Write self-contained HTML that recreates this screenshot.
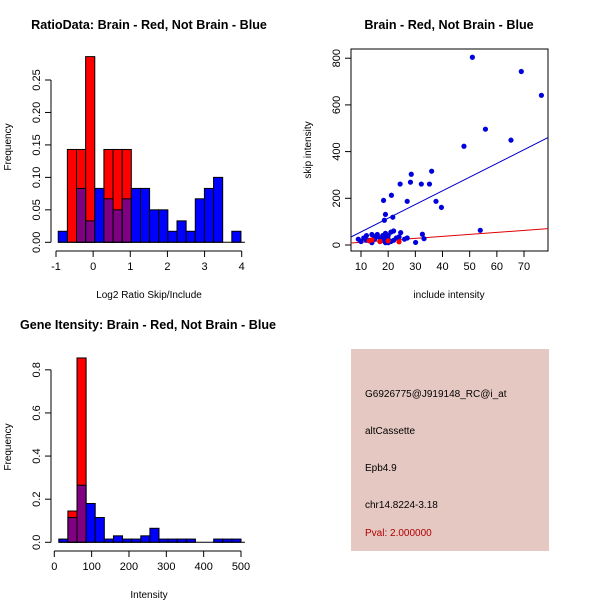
<!DOCTYPE html>
<html><head><meta charset="utf-8"><style>
html,body{margin:0;padding:0;background:#fff;}
svg{display:block;font-family:"Liberation Sans",Arial,sans-serif;}
</style></head><body>
<svg id="s" width="600" height="600" viewBox="0 0 600 600">
<rect width="600" height="600" fill="#fff"/>
<text x="149" y="29" font-size="12.6" font-weight="bold" text-anchor="middle">RatioData: Brain - Red, Not Brain - Blue</text>
<text x="449" y="29" font-size="12.6" font-weight="bold" text-anchor="middle">Brain - Red, Not Brain - Blue</text>
<text x="148" y="329" font-size="12.6" font-weight="bold" text-anchor="middle">Gene Itensity: Brain - Red, Not Brain - Blue</text>
<text x="149" y="298" font-size="10" text-anchor="middle">Log2 Ratio Skip/Include</text>
<text x="11" y="147" font-size="10" text-anchor="middle" transform="rotate(-90 11 147)">Frequency</text>
<text x="449" y="298" font-size="10" text-anchor="middle">include intensity</text>
<text x="311" y="150" font-size="10" text-anchor="middle" transform="rotate(-90 311 150)">skip intensity</text>
<text x="149" y="598" font-size="10" text-anchor="middle">Intensity</text>
<text x="11" y="447" font-size="10" text-anchor="middle" transform="rotate(-90 11 447)">Frequency</text>
<g id="g1"></g>
<g id="g2"></g>
<g id="g3"></g>
<g>
<rect x="351" y="349" width="198" height="202" fill="#e5c8c2"/>
<text x="365" y="397" font-size="10">G6926775@J919148_RC@i_at</text>
<text x="365" y="434" font-size="10">altCassette</text>
<text x="365" y="471" font-size="10">Epb4.9</text>
<text x="365" y="508" font-size="10">chr14.8224-3.18</text>
<text x="365" y="536" font-size="10" fill="#b00000">Pval: 2.000000</text>
</g>
</svg>
<script>
// Ratio histogram data
const ratioBinStart = -0.94, ratioBinWidth = 0.246;
const ratioRed  = [0,0.143,0.143,0.286,0,0.143,0.143,0.143,0,0,0,0,0,0,0,0,0,0,0,0];
const ratioBlue = [0.017,0,0.083,0.033,0.083,0.067,0.05,0.067,0.083,0.083,0.05,0.05,0.017,0.033,0.017,0.067,0.083,0.1,0,0.017];
const ratioXTicks = [-1,0,1,2,3,4];
const ratioYTicks = ["0.00","0.05","0.10","0.15","0.20","0.25"];
// Intensity histogram data
const intBinStart = 12, intBinWidth = 24.4;
const intRed  = [0,0.145,0.855,0,0,0,0,0,0,0,0,0,0,0,0,0,0,0,0,0];
const intBlue = [0.015,0.115,0.265,0.18,0.115,0.015,0.03,0.015,0.015,0.03,0.065,0.015,0.015,0.015,0.015,0,0,0.015,0.015,0.015];
const intXTicks = [0,100,200,300,400,500];
const intYTicks = ["0.0","0.2","0.4","0.6","0.8"];
// Scatter data
const blueX = [51,69,76.4,55.8,65.2,47.9,36,28.5,28.2,24.4,32.2,35.2,21.2,27,37.6,18.3,39.6,21.7,19,18.6,53.9,24.6,30.1,32.6,33.2,9,10,11,12,13,14,15,16,16,17,17,18,18,19,19,19,20,20,21,21,22,22,23,24,26,27,14,12,15,20];
const blueY = [804,743,641,496,449,423,316,303,269,261,261,261,213,187,187,191,161,119,131,106,63,53,11,46,27,25,15,30,40,20,45,25,35,45,15,30,20,40,10,30,50,25,40,15,55,20,60,30,35,25,30,10,20,35,10];
const redX = [13,14,24,20,17];
const redY = [18,22,14,18,15];
const blueFit = [-2.7,5.87];
const redFit = [3,0.85];
const scXTicks = [10,20,30,40,50,60,70];
const scYTicks = [0,200,400,600,800];

const NS="http://www.w3.org/2000/svg";
function mk(p,t,a){const e=document.createElementNS(NS,t);for(const k in a)e.setAttribute(k,a[k]);p.appendChild(e);return e;}

function hist(g,binStart,bw,red,blue,xs,ys,X,Y,axY,axX){
  for(let i=0;i<red.length;i++){ if(red[i]>0){
    const x0=X(binStart+i*bw),x1=X(binStart+(i+1)*bw);
    const r=mk(g,'rect',{x:x0,y:Y(red[i]),width:x1-x0,height:Y(0)-Y(red[i]),fill:'#ff0000',stroke:'#000','stroke-width':1});
    
    
  }}
  for(let i=0;i<blue.length;i++){ if(blue[i]>0){
    const x0=X(binStart+i*bw),x1=X(binStart+(i+1)*bw);
    const r=mk(g,'rect',{x:x0,y:Y(blue[i]),width:x1-x0,height:Y(0)-Y(blue[i]),fill:'rgba(0,0,255,0.5)',stroke:'#000','stroke-width':1});
    if(red[i]===0) r.setAttribute('fill','#0000ff');
    
    
  }}
  mk(g,'line',{x1:X(binStart),x2:X(binStart+blue.length*bw)+4,y1:Y(0),y2:Y(0),stroke:'#000'});
  mk(g,'line',{x1:X(xs[0]),x2:X(xs[xs.length-1]),y1:axY,y2:axY,stroke:'#000'});
  xs.forEach(v=>{mk(g,'line',{x1:X(v),x2:X(v),y1:axY,y2:axY+6,stroke:'#000'});
    const t=mk(g,'text',{x:X(v),y:axY+19,'font-size':11,'text-anchor':'middle'});t.textContent=v;
    
    });
  mk(g,'line',{x1:axX,x2:axX,y1:Y(+ys[0]),y2:Y(+ys[ys.length-1]),stroke:'#000'});
  ys.forEach(v=>{const y=Y(+v);mk(g,'line',{x1:axX-6,x2:axX,y1:y,y2:y,stroke:'#000'});
    const t=mk(g,'text',{x:axX-11,y:y,'font-size':11,'text-anchor':'middle',transform:`rotate(-90 ${axX-11} ${y})`});t.textContent=v;
    
    });
}
hist(document.getElementById('g1'),ratioBinStart,ratioBinWidth,ratioRed,ratioBlue,ratioXTicks,ratioYTicks,
  v=>56+(v+1)*37.14, v=>242.3-v*649.2, 251, 51);
hist(document.getElementById('g3'),intBinStart,intBinWidth,intRed,intBlue,intXTicks,intYTicks,
  v=>54.3+v*0.3734, v=>542.3-v*215.6, 551, 51);

// scatter
const g2=document.getElementById('g2');
const SX=v=>361+(v-10)*2.717, SY=v=>245-v*0.2335;
const box=mk(g2,'rect',{x:351,y:49,width:197,height:202,fill:'none',stroke:'#000'});


scXTicks.forEach(v=>{mk(g2,'line',{x1:SX(v),x2:SX(v),y1:251,y2:257,stroke:'#000'});
  const t=mk(g2,'text',{x:SX(v),y:270,'font-size':11,'text-anchor':'middle'});t.textContent=v;
  
  });
scYTicks.forEach(v=>{const y=SY(v);mk(g2,'line',{x1:345,x2:351,y1:y,y2:y,stroke:'#000'});
  const t=mk(g2,'text',{x:340,y:y,'font-size':11,'text-anchor':'middle',transform:`rotate(-90 340 ${y})`});t.textContent=v;
  
  });
const cp=mk(g2,'clipPath',{id:'cp'});mk(cp,'rect',{x:351,y:49,width:197,height:202});
const lg=mk(g2,'g',{'clip-path':'url(#cp)'});
const xa=6.3,xb=79;
const bl=mk(lg,'line',{x1:SX(xa),y1:SY(blueFit[0]+blueFit[1]*xa),x2:SX(xb),y2:SY(blueFit[0]+blueFit[1]*xb),stroke:'#0000cc','stroke-width':1});


const rl=mk(lg,'line',{x1:SX(xa),y1:SY(redFit[0]+redFit[1]*xa),x2:SX(xb),y2:SY(redFit[0]+redFit[1]*xb),stroke:'#dd0000','stroke-width':1});


blueX.forEach((x,i)=>{const c=mk(g2,'circle',{cx:SX(x),cy:SY(blueY[i]),r:2.6,fill:'#0000dd'});
  
  });
redX.forEach((x,i)=>{const c=mk(g2,'circle',{cx:SX(x),cy:SY(redY[i]),r:2.6,fill:'#ff0000'});
  
  });
</script>
</body></html>
